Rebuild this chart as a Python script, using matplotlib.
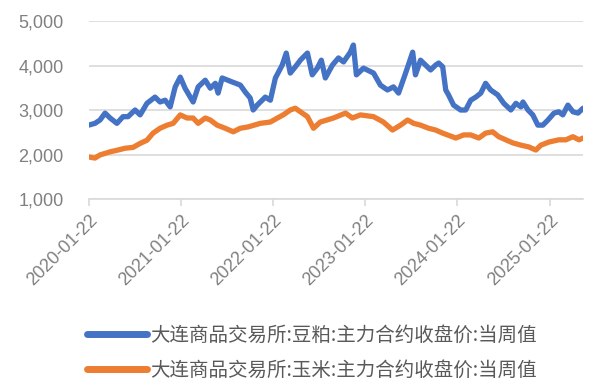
import matplotlib
matplotlib.use("Agg")
import matplotlib.pyplot as plt
import pandas as pd

plt.rcParams['font.family'] = ['Liberation Sans', 'Noto Sans CJK SC', 'DejaVu Sans']

meal_dates = ["2020-01-22", "2020-02-16", "2020-03-07", "2020-03-27", "2020-04-16", "2020-05-13",
              "2020-06-06", "2020-06-26", "2020-07-24", "2020-08-13", "2020-09-09", "2020-10-11",
              "2020-10-31", "2020-11-20", "2020-12-10", "2020-12-30", "2021-01-19", "2021-02-07",
              "2021-03-11", "2021-03-31", "2021-04-28", "2021-05-18", "2021-06-07", "2021-06-18",
              "2021-07-04", "2021-08-13", "2021-09-14", "2021-10-04", "2021-10-23", "2021-11-04",
              "2021-11-20", "2021-12-22", "2022-01-11", "2022-01-31", "2022-02-27", "2022-03-15",
              "2022-03-31", "2022-04-20", "2022-05-10", "2022-05-22", "2022-06-07", "2022-06-26",
              "2022-07-16", "2022-08-01", "2022-08-17", "2022-09-14", "2022-10-08", "2022-10-28",
              "2022-11-24", "2022-12-06", "2022-12-18", "2023-01-15", "2023-02-24", "2023-03-23",
              "2023-04-20", "2023-05-14", "2023-06-03", "2023-07-01", "2023-07-29", "2023-08-09",
              "2023-08-29", "2023-09-18", "2023-10-08", "2023-10-28", "2023-11-09", "2023-11-25",
              "2023-12-07", "2023-12-18", "2024-01-07", "2024-02-04", "2024-02-24", "2024-03-15",
              "2024-04-04", "2024-04-24", "2024-05-13", "2024-06-02", "2024-06-30", "2024-07-24",
              "2024-08-21", "2024-09-10", "2024-09-30", "2024-10-08", "2024-10-28", "2024-11-16",
              "2024-12-06", "2024-12-26", "2025-01-15", "2025-02-08", "2025-02-27", "2025-03-15",
              "2025-04-04", "2025-04-24", "2025-05-14", "2025-06-03"]
meal_values = [2660, 2700, 2775, 2930, 2820, 2700,
               2850, 2850, 3000, 2890, 3150, 3290,
               3180, 3220, 3070, 3520, 3740, 3490,
               3180, 3520, 3670, 3490, 3600, 3380,
               3720, 3630, 3560, 3400, 3270, 3000,
               3110, 3290, 3220, 3720, 4010, 4280,
               3830, 3970, 4120, 4190, 4280, 3790,
               3940, 4120, 3720, 4010, 4170, 4080,
               4300, 4460, 3790, 3940, 3830, 3560,
               3450, 3520, 3380, 3830, 4300, 3790,
               4120, 4010, 3900, 4010, 4055, 3970,
               3450, 3340, 3110, 3000, 3000, 3220,
               3290, 3380, 3600, 3450, 3340, 3150,
               3000, 3150, 3070, 3180, 3000, 2890,
               2660, 2660, 2775, 2930, 2960, 2890,
               3110, 2960, 2930, 3040]

corn_dates = ["2020-01-22", "2020-02-16", "2020-03-07", "2020-04-16", "2020-05-17", "2020-06-14",
              "2020-07-16", "2020-08-13", "2020-09-09", "2020-10-03", "2020-10-31", "2020-11-28",
              "2020-12-22", "2021-01-19", "2021-02-15", "2021-03-11", "2021-03-31", "2021-04-28",
              "2021-05-18", "2021-06-14", "2021-07-16", "2021-08-17", "2021-09-14", "2021-10-15",
              "2021-12-02", "2022-01-11", "2022-02-08", "2022-03-03", "2022-03-31", "2022-04-20",
              "2022-05-10", "2022-06-07", "2022-07-01", "2022-07-28", "2022-09-18", "2022-11-05",
              "2022-12-02", "2023-01-03", "2023-02-24", "2023-04-04", "2023-05-10", "2023-06-11",
              "2023-07-09", "2023-08-02", "2023-08-29", "2023-09-30", "2023-10-28", "2023-11-25",
              "2024-01-16", "2024-02-16", "2024-03-15", "2024-04-16", "2024-05-13", "2024-06-10",
              "2024-07-04", "2024-08-01", "2024-08-29", "2024-09-30", "2024-10-31", "2024-11-28",
              "2024-12-18", "2025-01-19", "2025-02-27", "2025-03-27", "2025-04-24", "2025-05-18",
              "2025-06-03"]
corn_values = [1944, 1920, 1990, 2060, 2100, 2140,
               2160, 2250, 2320, 2480, 2590, 2660,
               2700, 2890, 2820, 2820, 2700, 2820,
               2775, 2660, 2590, 2510, 2590, 2620,
               2700, 2730, 2820, 2890, 3000, 3040,
               2960, 2850, 2590, 2730, 2820, 2930,
               2820, 2890, 2850, 2730, 2550, 2660,
               2775, 2700, 2660, 2590, 2550, 2480,
               2370, 2440, 2440, 2370, 2480, 2510,
               2400, 2330, 2260, 2210, 2170, 2100,
               2210, 2280, 2330, 2330, 2400, 2330,
               2370]

xtick_labels = ["2020-01-22", "2021-01-22", "2022-01-22", "2023-01-22", "2024-01-22", "2025-01-22"]
yticks = [1000, 2000, 3000, 4000, 5000]
meal_label = "大连商品交易所:豆粕:主力合约收盘价:当周值"
corn_label = "大连商品交易所:玉米:主力合约收盘价:当周值"

fig = plt.figure(figsize=(5.91, 3.87), dpi=100)
ax = fig.add_axes([0.150, 0.4858, 0.8365, 0.4599])

l1, = ax.plot(pd.to_datetime(meal_dates), meal_values, color="#4472C4", lw=3.8,
              solid_capstyle="round", solid_joinstyle="round")
l2, = ax.plot(pd.to_datetime(corn_dates), corn_values, color="#ED7D31", lw=3.8,
              solid_capstyle="round", solid_joinstyle="round")

ax.set_ylim(1000, 5000)
ax.set_yticks(yticks)
ax.set_yticklabels([f"{v:,}" for v in yticks])
ax.set_xlim(pd.Timestamp("2020-01-22"), pd.Timestamp("2025-06-03"))
ax.set_xticks(pd.to_datetime(xtick_labels))
ax.set_xticklabels(xtick_labels, rotation=45, ha="right", rotation_mode="anchor")

ax.grid(axis="y", color="#D9D9D9", lw=1.2)
ax.set_axisbelow(True)
for s in ["top", "right", "left"]:
    ax.spines[s].set_visible(False)
ax.spines["bottom"].set_color("#D9D9D9")
ax.spines["bottom"].set_linewidth(1.2)
ax.tick_params(axis="y", length=0, labelsize=13, labelcolor="#808080", pad=18)
ax.tick_params(axis="x", length=5, color="#D9D9D9", width=1.2, labelsize=13,
               labelcolor="#808080", pad=4)

leg = fig.legend([l1, l2], [meal_label, corn_label], loc="upper left",
                 bbox_to_anchor=(0.147, 0.16), frameon=False, handlelength=3.1,
                 handletextpad=0.15, labelspacing=0.72, borderpad=0, borderaxespad=0,
                 prop={"family": ["Noto Sans CJK SC", "DejaVu Sans"], "size": 14})
for t in leg.get_texts():
    t.set_color("#595959")
for h in leg.legend_handles:
    h.set_linewidth(5)

fig.savefig("out.png", dpi=100)
